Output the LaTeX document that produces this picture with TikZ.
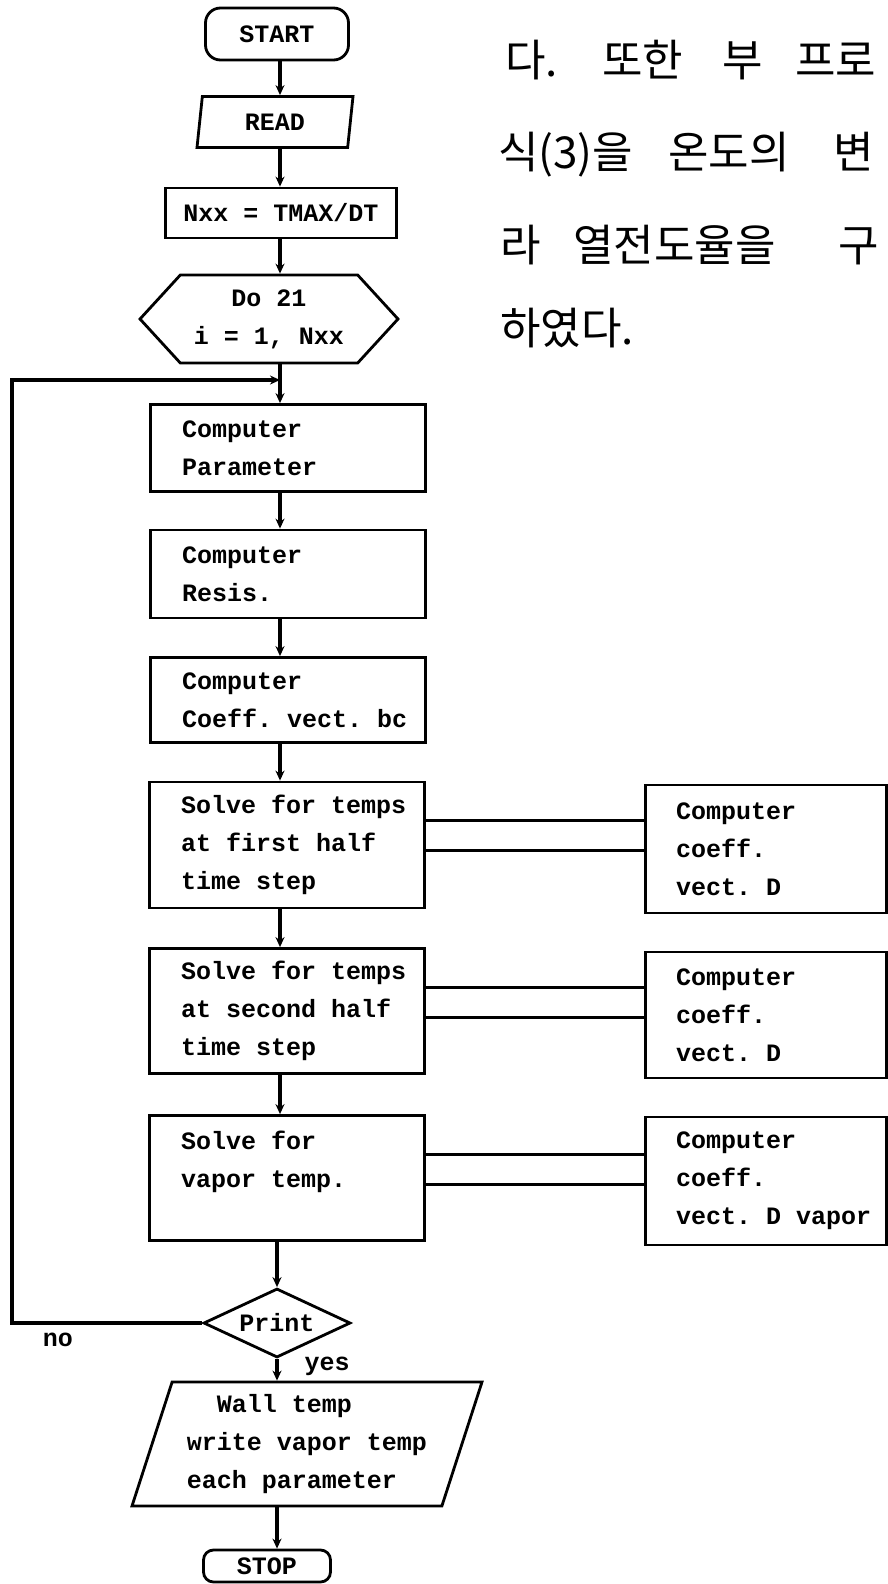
\documentclass[tikz,border=0pt]{standalone}
\usepackage{fontspec}
\setmonofont{Liberation Mono}[WordSpace={1,0,0}]
\newfontfamily\krfont{Noto Sans CJK KR}
\usetikzlibrary{shapes.geometric,shapes.symbols,arrows.meta}

\tikzset{
  every node/.style={font=\ttfamily\bfseries\fontsize{25}{38}\selectfont},
  heavy/.style={line width=2.8pt},
  arr/.style={-{Stealth[length=10pt,width=9pt]}, line width=3.2pt},
  term/.style={draw, heavy, rounded corners=15pt, inner sep=0pt},
  iobox/.style={draw, heavy, trapezium, trapezium stretches body, inner sep=0pt},
  procbox/.style={draw, heavy, text width=242pt, inner xsep=16.5pt, align=flush left,
                  execute at begin node={\leftskip=15pt}},
  subbox/.style={draw, heavy, text width=212pt, inner xsep=14.5pt, align=flush left,
                 execute at begin node={\leftskip=16pt}},
  kr/.style={font=\krfont\fontsize{44}{50}\selectfont, inner sep=0pt, anchor=west},
}

\begin{document}
\begin{tikzpicture}[x=1pt, y=-1pt]
  \useasboundingbox (0,0) rectangle (888,1584);
  \clip (0,0) rectangle (888,1584);

  % main column
  \coordinate (spine) at (280,0);
  \node[term, minimum width=143pt, minimum height=52pt] (start) at (277,34) {START};
  \node[iobox, trapezium left angle=72, trapezium right angle=108,
        minimum width=156pt, minimum height=51pt] (read) at (275,122) {READ};
  \node[draw, heavy, minimum width=231pt, minimum height=50pt] (nxx) at (281,213) {Nxx = TMAX/DT};
  \node[draw, heavy, signal, signal to=west and east, signal pointer angle=95,
        minimum width=258pt, minimum height=88pt, inner sep=0pt, align=center] (loop) at (269,319)
        {Do 21\\i = 1, Nxx};

  \node[procbox, minimum height=87pt] (param) at (288,448) {Computer\\Parameter};
  \node[procbox, minimum height=88pt] (resis) at (288,574) {Computer\\Resis.};
  \node[procbox, minimum height=85pt] (coeff) at (288,700) {Computer\\Coeff. vect. bc};
  \node[procbox, minimum height=126pt] (solvea) at (287,845) {Solve for temps\\at first half\\time step};
  \node[procbox, minimum height=125pt] (solveb) at (287,1011) {Solve for temps\\at second half\\time step};
  \node[procbox, minimum height=125pt] (solvec) at (287,1178) {Solve for\\vapor temp.\\\mbox{}};

  % side boxes
  \node[subbox, minimum height=128pt] (coefa) at (766,849) {Computer\\coeff.\\vect. D};
  \node[subbox, minimum height=126pt] (coefb) at (766,1015) {Computer\\coeff.\\vect. D};
  \node[subbox, minimum height=128pt] (coefc) at (766,1181) {Computer\\coeff.\\vect. D vapor};

  \node[draw, heavy, diamond, aspect=2.1, minimum width=147pt, minimum height=69pt,
        inner sep=0pt] (print) at (277,1323) {Print};
  \node[iobox, trapezium left angle=68, trapezium right angle=112, align=left,
        minimum width=350pt, minimum height=124pt] (wall) at (307,1444)
        {\hspace*{30pt}Wall temp\\write vapor temp\\each parameter};
  \node[term, rounded corners=10pt, minimum width=127pt, minimum height=32pt] (stop) at (267,1566) {STOP};

  \node (no) at (58,1340) {no};
  \node (yes) at (327,1366) {yes};

  % connectors
  \draw[arr] (start.south -| spine) -- (read.north -| spine);
  \draw[arr] (read.south -| spine) -- (nxx.north -| spine);
  \draw[arr] (nxx.south -| spine) -- (loop.north -| spine);
  \draw[arr] (loop.south -| spine) -- (param.north -| spine);
  \draw[arr] (param.south -| spine) -- (resis.north -| spine);
  \draw[arr] (resis.south -| spine) -- (coeff.north -| spine);
  \draw[arr] (coeff.south -| spine) -- (solvea.north -| spine);
  \draw[arr] (solvea.south -| spine) -- (solveb.north -| spine);
  \draw[arr] (solveb.south -| spine) -- (solvec.north -| spine);
  \draw[arr] (solvec.south -| print.north) -- (print.north);
  \draw[arr] (print.south) -- (wall.north -| print.south);
  \draw[arr] (wall.south -| print.south) -- (stop.north -| print.south);

  % loop back (no)
  \coordinate (back) at (12,380);
  \coordinate (join) at (280,380);
  \draw[arr] (print.west) -- (print.west -| back) |- (join);

  % links to side boxes
  \foreach \s/\c in {solvea/coefa, solveb/coefb, solvec/coefc} {
    \draw[heavy] ([yshift=-40pt]\s.north east) -- ([yshift=-40pt]\s.north east -| \c.west);
    \draw[heavy] ([yshift=-70pt]\s.north east) -- ([yshift=-70pt]\s.north east -| \c.west);
  }

  % Korean text
  \node[kr] (ka) at (505,60) {\makebox[97pt][l]{다.}\makebox[120pt][l]{또한}\makebox[73pt][l]{부}프로};
  \node[kr] (kb) at (498,155) {\makebox[170pt][l]{식(3)을}\makebox[165pt][l]{온도의}변};
  \node[kr] (kc) at (500,245) {\makebox[73pt][l]{라}\makebox[265pt][l]{열전도율을}구};
  \node[kr] (kd) at (500,328) {하였다.};
\end{tikzpicture}
\end{document}
